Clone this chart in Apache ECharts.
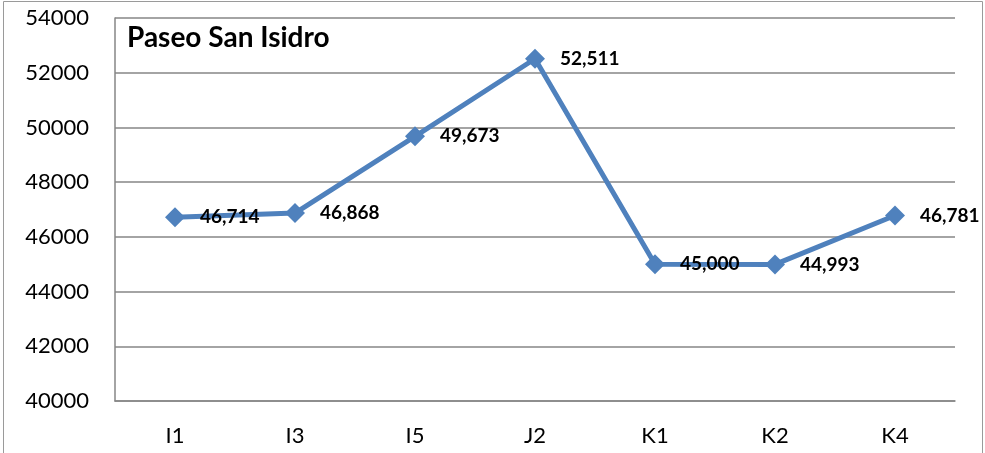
<!DOCTYPE html>
<html>
<head>
<meta charset="utf-8">
<script src="https://cdn.jsdelivr.net/npm/echarts@6/dist/echarts.min.js"></script>
<style>
  html, body { margin: 0; padding: 0; background: #fff; }
  #chart { width: 985px; height: 453px; }
</style>
</head>
<body>
<div id="chart"></div>
<script>
// 数据
const categories = ['I1', 'I3', 'I5', 'J2', 'K1', 'K2', 'K4'];
const visitors = [46714, 46868, 49673, 52511, 45000, 44993, 46781];
const yTicks = { min: 40000, max: 54000, interval: 2000 };

const chart = echarts.init(document.getElementById('chart'));
const option = {
  animation: false,
  textStyle: { fontFamily: 'Lato' },
  title: {
    text: 'Paseo San Isidro',
    left: 122,
    top: 19,
    textStyle: { fontFamily: 'Lato', fontWeight: 'bold', fontSize: 28, color: '#000' },
  },
  graphic: [
    {
      type: 'rect',
      shape: { x: 3.5, y: 1.5, width: 979, height: 470 },
      style: { fill: 'none', stroke: '#9a9a9a', lineWidth: 1 },
      silent: true,
    },
  ],
  grid: {
    left: 115,
    right: 30,
    top: 18,
    bottom: 52,
  },
  xAxis: {
    type: 'category',
    data: categories,
    axisLine: { lineStyle: { color: '#868686', width: 1.5 } },
    axisTick: { show: false },
    axisLabel: { color: '#000', fontSize: 22, margin: 24 },
  },
  yAxis: {
    type: 'value',
    min: yTicks.min,
    max: yTicks.max,
    interval: yTicks.interval,
    axisLine: { show: true, lineStyle: { color: '#868686', width: 1.5 } },
    axisTick: { show: false },
    axisLabel: { color: '#000', fontSize: 22, margin: 26, formatter: (v) => String(v) },
    splitLine: { lineStyle: { color: '#868686', width: 1.5 } },
  },
  series: [
    {
      type: 'line',
      data: visitors,
      symbol: 'diamond',
      symbolSize: 20,
      lineStyle: { color: '#4F81BD', width: 5 },
      itemStyle: { color: '#4F81BD' },
      label: {
        show: true,
        position: 'right',
        distance: 15,
        color: '#000',
        fontWeight: 'bold',
        fontSize: 19,
        formatter: (p) => p.value.toLocaleString('en-US'),
      },
    },
  ],
};
chart.setOption(option);
</script>
</body>
</html>
